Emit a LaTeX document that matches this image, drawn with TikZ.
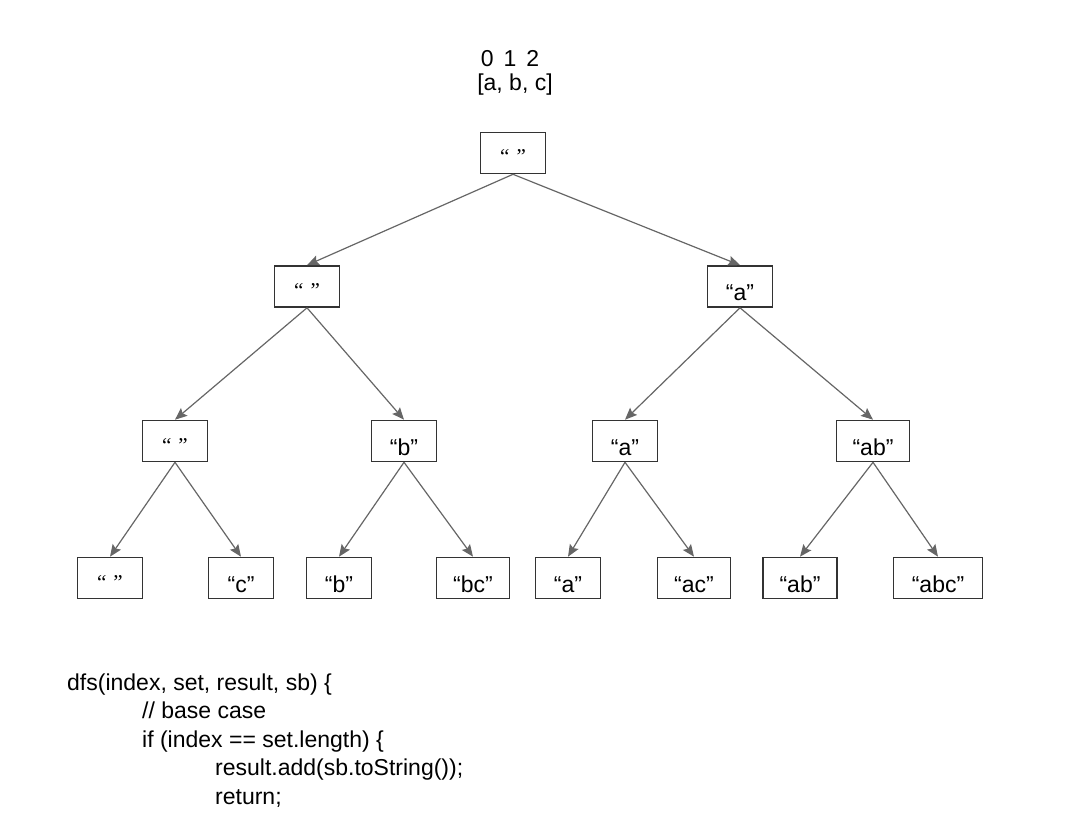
\documentclass[tikz,border=0pt]{standalone}
\usepackage{fontspec}
\setmainfont{Liberation Sans}
\newfontfamily\quotefont{Liberation Serif}
\usetikzlibrary{arrows.meta}

\newcommand{\emptyq}{{\quotefont\fontsize{21}{24}\selectfont\raisebox{3pt}{“\hspace{7pt}”}}}

\begin{document}
\begin{tikzpicture}[x=1pt,y=-1pt,
                    every node/.style={font=\fontsize{23}{28.5}\selectfont},
                    strbox/.style={draw=black!80,line width=1.6pt,minimum width=65pt,minimum height=41pt,
                                   inner xsep=4pt,inner ysep=0pt,text height=28pt,text depth=0pt},
                    link/.style={draw=black!60,line width=1.2pt,-{Stealth[length=12pt,width=10pt,inset=2pt]}}
]
\useasboundingbox (0,0) rectangle (1089,834);

% indices and input set
\node [anchor=base] at (510,67) (idx) {0\hspace{10pt}1\hspace{10pt}2};
\node [anchor=base] at (515,91) (arr) {[a, b, c]};
%
\node [strbox] at (513,153) (s) {\emptyq};
%
\node [strbox] at (307,286.5) (s0) {\emptyq};
\node [strbox] at (740,286.5) (s1) {“a”};
%
\node [strbox] at (175,441) (s00) {\emptyq};
\node [strbox] at (404,441) (s01) {“b”};
\node [strbox] at (625,441) (s10) {“a”};
\node [strbox,minimum width=73pt] at (873,441) (s11) {“ab”};
%
\node [strbox] at (110,578) (s000) {\emptyq};
\node [strbox] at (241,578) (s001) {“c”};
\node [strbox] at (339,578) (s010) {“b”};
\node [strbox,minimum width=73pt] at (473,578) (s011) {“bc”};
\node [strbox] at (568,578) (s100) {“a”};
\node [strbox,minimum width=73pt] at (694,578) (s101) {“ac”};
\node [strbox,minimum width=74pt] at (800,578) (s110) {“ab”};
\node [strbox,minimum width=89pt] at (938,578) (s111) {“abc”};
%
\draw [link] (s.south) -- (s0.north);
\draw [link] (s.south) -- (s1.north);
\draw [link] (s0.south) -- (s00.north);
\draw [link] (s0.south) -- (s01.north);
\draw [link] (s1.south) -- (s10.north);
\draw [link] (s1.south) -- (s11.north);
\draw [link] (s00.south) -- (s000.north);
\draw [link] (s00.south) -- (s001.north);
\draw [link] (s01.south) -- (s010.north);
\draw [link] (s01.south) -- (s011.north);
\draw [link] (s10.south) -- (s100.north);
\draw [link] (s10.south) -- (s101.north);
\draw [link] (s11.south) -- (s110.north);
\draw [link] (s11.south) -- (s111.north);
%
% pseudo code
\node [anchor=base west,align=left,inner sep=0pt] at (67,804) (code) {dfs(index, set, result, sb) \{\\
\hspace*{75pt}// base case\\
\hspace*{75pt}if (index == set.length) \{\\
\hspace*{148pt}result.add(sb.toString());\\
\hspace*{148pt}return;};
\end{tikzpicture}
\end{document}
